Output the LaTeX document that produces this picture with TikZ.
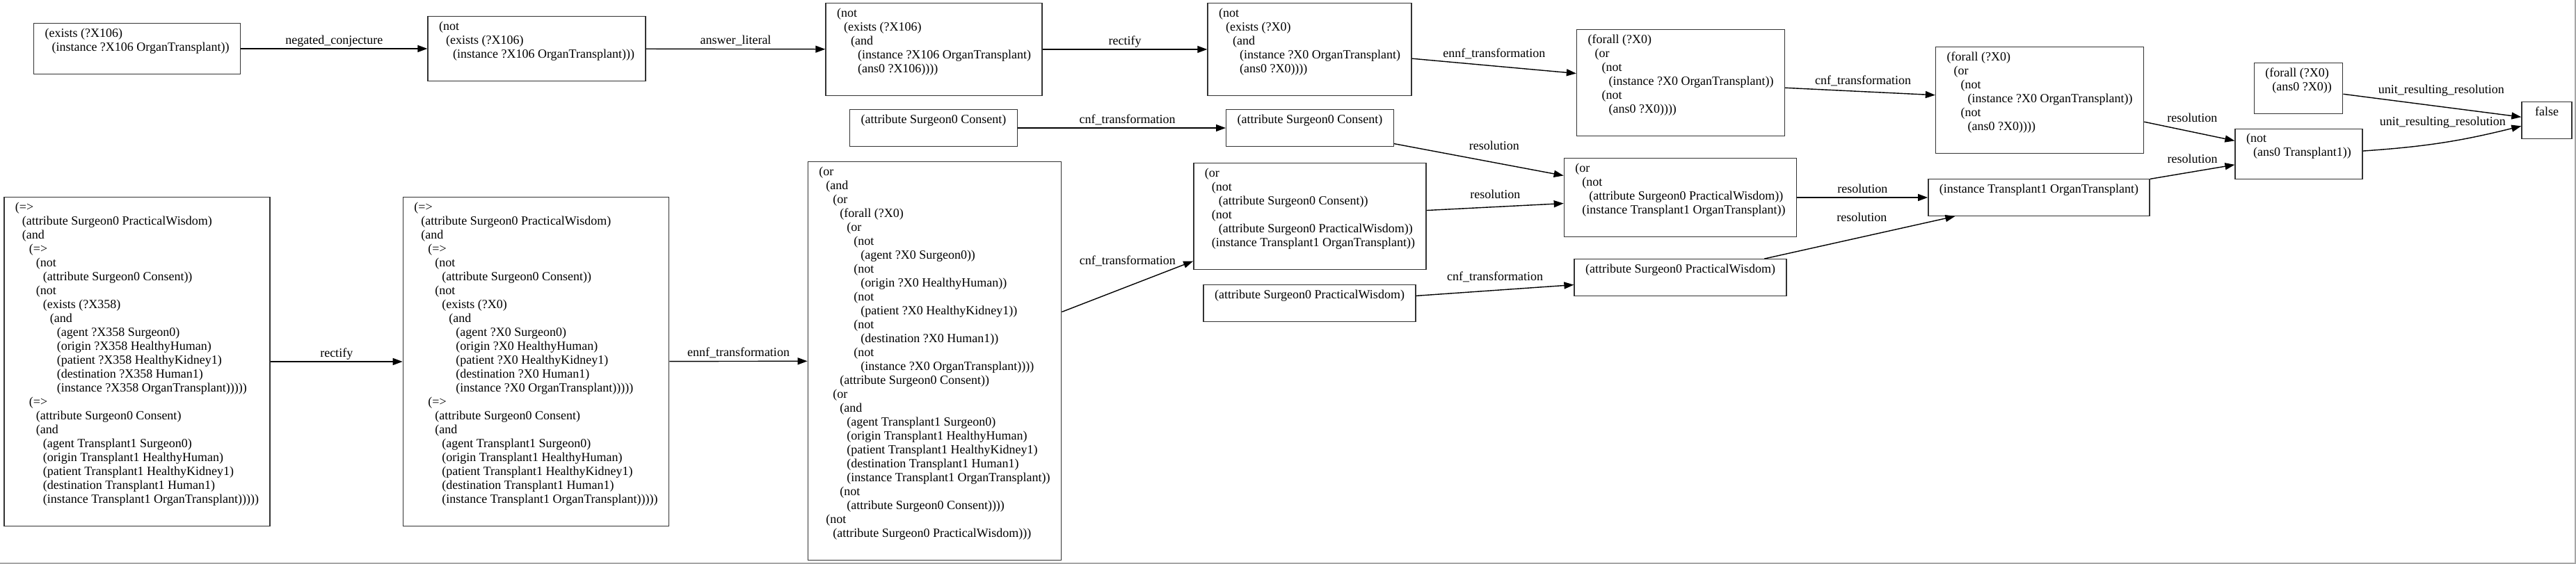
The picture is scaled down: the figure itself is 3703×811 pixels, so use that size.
\documentclass[tikz,border=0pt]{standalone}
\usepackage{fontspec}
\setmainfont{Liberation Serif}
\usetikzlibrary{arrows.meta}
\newlength{\indstep}
\setlength{\indstep}{10pt}
\newcommand{\lvl}[1]{\hspace*{#1\indstep}}
\tikzset{
    every node/.style={font=\fontsize{18}{20}\selectfont},
    box/.style={draw=black!80, line width=1.4pt, align=left, inner xsep=16pt,
    	inner ysep=7pt, minimum width=72pt},
    lbl/.style={above, inner sep=0pt, execute at begin node=\strut},
    arr/.style={-{Triangle[length=14pt, width=10pt]}, line width=1.4pt}
}
\begin{document}
\begin{tikzpicture}
  \useasboundingbox (0pt, 0pt) rectangle (3703pt, -811pt);
  \draw[black!35, line width=2pt] (0pt, -810pt) -- (3702pt, -810pt) -- (3702pt, 0pt);

  \node (conj) [box] at (197pt, -70pt) {(exists (?X106)\\
    \lvl{1}(instance ?X106 OrganTransplant))\\ \strut};
  \node (neg_conj) [box] at (771.5pt, -70pt) {(not\\
    \lvl{1}(exists (?X106)\\
    \lvl{2}(instance ?X106 OrganTransplant)))\\ \strut};
  \node (ans_lit) [box] at (1342.5pt, -71pt) {(not\\
    \lvl{1}(exists (?X106)\\
    \lvl{2}(and\\
    \lvl{3}(instance ?X106 OrganTransplant)\\
    \lvl{3}(ans0 ?X106))))\\ \strut};
  \node (rect_1) [box] at (1882.5pt, -71pt) {(not\\
    \lvl{1}(exists (?X0)\\
    \lvl{2}(and\\
    \lvl{3}(instance ?X0 OrganTransplant)\\
    \lvl{3}(ans0 ?X0))))\\ \strut};
  \node (ennf_1) [box] at (2416pt, -119pt) {(forall (?X0)\\
    \lvl{1}(or\\
    \lvl{2}(not\\
    \lvl{3}(instance ?X0 OrganTransplant))\\
    \lvl{2}(not\\
    \lvl{3}(ans0 ?X0))))\\ \strut};
  \node (cnf_1) [box] at (2932pt, -144pt) {(forall (?X0)\\
    \lvl{1}(or\\
    \lvl{2}(not\\
    \lvl{3}(instance ?X0 OrganTransplant))\\
    \lvl{2}(not\\
    \lvl{3}(ans0 ?X0))))\\ \strut};
  \node (ans_all) [box] at (3304pt, -127pt) {(forall (?X0)\\
    \lvl{1}(ans0 ?X0))\\ \strut};
  \node (fls) [box] at (3661pt, -173pt) {false\\ \strut};
  \node (not_ans) [box] at (3304.5pt, -221.5pt) {(not\\
    \lvl{1}(ans0 Transplant1))\\ \strut};

  \node (cons_0) [box] at (1342pt, -184pt) {(attribute Surgeon0 Consent)\\ \strut};
  \node (cons_1) [box] at (1883pt, -184pt) {(attribute Surgeon0 Consent)\\ \strut};
  \node (res_1) [box] at (2415.5pt, -284pt) {(or\\
    \lvl{1}(not\\
    \lvl{2}(attribute Surgeon0 PracticalWisdom))\\
    \lvl{1}(instance Transplant1 OrganTransplant))\\ \strut};
  \node (inst) [box] at (2931pt, -284pt) {(instance Transplant1 OrganTransplant)\\ \strut};
  \node (cnf_2) [box] at (1883pt, -311pt) {(or\\
    \lvl{1}(not\\
    \lvl{2}(attribute Surgeon0 Consent))\\
    \lvl{1}(not\\
    \lvl{2}(attribute Surgeon0 PracticalWisdom))\\
    \lvl{1}(instance Transplant1 OrganTransplant))\\ \strut};
  \node (pw_1) [box] at (2415.5pt, -399pt) {(attribute Surgeon0 PracticalWisdom)\\ \strut};
  \node (pw_0) [box] at (1882.5pt, -436pt) {(attribute Surgeon0 PracticalWisdom)\\ \strut};

  \node (ax) [box] at (197pt, -520pt) {(=>\\
    \lvl{1}(attribute Surgeon0 PracticalWisdom)\\
    \lvl{1}(and\\
    \lvl{2}(=>\\
    \lvl{3}(not\\
    \lvl{4}(attribute Surgeon0 Consent))\\
    \lvl{3}(not\\
    \lvl{4}(exists (?X358)\\
    \lvl{5}(and\\
    \lvl{6}(agent ?X358 Surgeon0)\\
    \lvl{6}(origin ?X358 HealthyHuman)\\
    \lvl{6}(patient ?X358 HealthyKidney1)\\
    \lvl{6}(destination ?X358 Human1)\\
    \lvl{6}(instance ?X358 OrganTransplant)))))\\
    \lvl{2}(=>\\
    \lvl{3}(attribute Surgeon0 Consent)\\
    \lvl{3}(and\\
    \lvl{4}(agent Transplant1 Surgeon0)\\
    \lvl{4}(origin Transplant1 HealthyHuman)\\
    \lvl{4}(patient Transplant1 HealthyKidney1)\\
    \lvl{4}(destination Transplant1 Human1)\\
    \lvl{4}(instance Transplant1 OrganTransplant)))))\\ \strut};
  \node (rect_2) [box] at (770.5pt, -520pt) {(=>\\
    \lvl{1}(attribute Surgeon0 PracticalWisdom)\\
    \lvl{1}(and\\
    \lvl{2}(=>\\
    \lvl{3}(not\\
    \lvl{4}(attribute Surgeon0 Consent))\\
    \lvl{3}(not\\
    \lvl{4}(exists (?X0)\\
    \lvl{5}(and\\
    \lvl{6}(agent ?X0 Surgeon0)\\
    \lvl{6}(origin ?X0 HealthyHuman)\\
    \lvl{6}(patient ?X0 HealthyKidney1)\\
    \lvl{6}(destination ?X0 Human1)\\
    \lvl{6}(instance ?X0 OrganTransplant)))))\\
    \lvl{2}(=>\\
    \lvl{3}(attribute Surgeon0 Consent)\\
    \lvl{3}(and\\
    \lvl{4}(agent Transplant1 Surgeon0)\\
    \lvl{4}(origin Transplant1 HealthyHuman)\\
    \lvl{4}(patient Transplant1 HealthyKidney1)\\
    \lvl{4}(destination Transplant1 Human1)\\
    \lvl{4}(instance Transplant1 OrganTransplant)))))\\ \strut};
  \node (ennf_2) [box] at (1343.5pt, -519pt) {(or\\
    \lvl{1}(and\\
    \lvl{2}(or\\
    \lvl{3}(forall (?X0)\\
    \lvl{4}(or\\
    \lvl{5}(not\\
    \lvl{6}(agent ?X0 Surgeon0))\\
    \lvl{5}(not\\
    \lvl{6}(origin ?X0 HealthyHuman))\\
    \lvl{5}(not\\
    \lvl{6}(patient ?X0 HealthyKidney1))\\
    \lvl{5}(not\\
    \lvl{6}(destination ?X0 Human1))\\
    \lvl{5}(not\\
    \lvl{6}(instance ?X0 OrganTransplant))))\\
    \lvl{3}(attribute Surgeon0 Consent))\\
    \lvl{2}(or\\
    \lvl{3}(and\\
    \lvl{4}(agent Transplant1 Surgeon0)\\
    \lvl{4}(origin Transplant1 HealthyHuman)\\
    \lvl{4}(patient Transplant1 HealthyKidney1)\\
    \lvl{4}(destination Transplant1 Human1)\\
    \lvl{4}(instance Transplant1 OrganTransplant))\\
    \lvl{3}(not\\
    \lvl{4}(attribute Surgeon0 Consent))))\\
    \lvl{1}(not\\
    \lvl{2}(attribute Surgeon0 PracticalWisdom)))\\ \strut};

  \draw[arr] (conj) edge node[lbl] {negated\_conjecture} (neg_conj);
  \draw[arr] (neg_conj) edge node[lbl] {answer\_literal} (ans_lit);
  \draw[arr] (ans_lit) edge node[lbl] {rectify} (rect_1);
  \draw[arr] (rect_1) edge node[lbl, yshift=6pt] {ennf\_transformation} (ennf_1);
  \draw[arr] (ennf_1) edge node[lbl, xshift=4pt, yshift=3pt] {cnf\_transformation} (cnf_1);
  \draw[arr] (cons_0) edge node[lbl, xshift=8pt] {cnf\_transformation} (cons_1);
  \draw[arr] (cons_1) edge node[lbl, xshift=22pt, yshift=7pt] {resolution} (res_1);
  \draw[arr] (cnf_2) edge node[lbl, yshift=5pt] {resolution} (res_1);
  \draw[arr] (ennf_2) edge node[lbl, yshift=25pt] {cnf\_transformation} (cnf_2);
  \draw[arr] (pw_0) edge node[lbl, yshift=7pt] {cnf\_transformation} (pw_1);
  \draw[arr] (res_1) edge node[lbl] {resolution} (inst);
  \draw[arr] (pw_1) edge node[lbl, xshift=3pt, yshift=16pt] {resolution} (inst);
  \draw[arr] (cnf_1) edge node[lbl, xshift=4pt, yshift=7pt] {resolution} (not_ans);
  \draw[arr] (inst) edge node[lbl, yshift=6pt] {resolution} (not_ans);
  \draw[arr] (ans_all) edge node[lbl, xshift=13pt, yshift=11pt] {unit\_resulting\_resolution} (fls);
  \draw[arr] (not_ans) edge [bend right=5] node[lbl, yshift=18pt] {unit\_resulting\_resolution} (fls);
  \draw[arr] (ax) edge node[lbl] {rectify} (rect_2);
  \draw[arr] (rect_2) edge node[lbl] {ennf\_transformation} (ennf_2);
\end{tikzpicture}
\end{document}
